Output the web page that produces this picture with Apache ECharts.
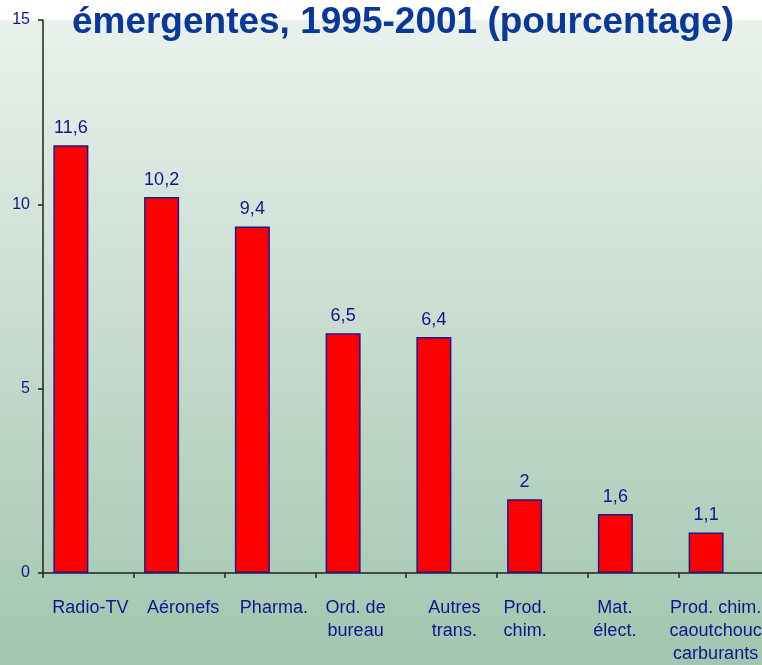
<!DOCTYPE html>
<html><head><meta charset="utf-8">
<script src="https://cdn.jsdelivr.net/npm/echarts@6/dist/echarts.min.js"></script>
<style>html,body{margin:0;padding:0;}#c{width:762px;height:665px;}</style>
</head><body><div id="c"></div>
<script>
const titleText = "émergentes, 1995-2001 (pourcentage)";
const categories = ["Radio-TV", "Aéronefs", "Pharma.", "Ord. de\nbureau", "Autres\ntrans.", "Prod.\nchim.", "Mat.\nélect.", "Prod. chim.\ncaoutchouc\ncarburants"];
const values = [11.6, 10.2, 9.4, 6.5, 6.4, 2, 1.6, 1.1];
const yTicks = [0, 5, 10, 15];
// horizontal nudge (px) of each category label, as placed in the original
const labelShift = [2, 4, 4, -5, 3, -17, -18, -8];

const navy = '#14148a';
const catData = categories.map((c, i) => {
  const s = labelShift[i];
  return {value: c, textStyle: {padding: s >= 0 ? [0, 0, 0, 2 * s] : [0, -2 * s, 0, 0]}};
});
const chart = echarts.init(document.getElementById('c'));
chart.setOption({
  backgroundColor: new echarts.graphic.LinearGradient(0, 0, 0, 1, [
    {offset: 0, color: '#ffffff'},
    {offset: 0.03, color: '#ffffff'},
    {offset: 0.031, color: '#e9f1eb'},
    {offset: 0.5, color: '#c7dccf'},
    {offset: 1, color: '#a1c6af'}
  ]),
  animation: false,
  title: {
    text: titleText, left: 398, textAlign: 'center', top: -1,
    textStyle: {fontFamily: 'Liberation Sans', fontWeight: 'bold', fontSize: 37, color: '#0a3898'}
  },
  grid: {left: 43, width: 726, top: 20, bottom: 92, containLabel: false, outerBoundsMode: 'none'},
  xAxis: {
    type: 'category', data: catData,
    axisLine: {lineStyle: {color: '#222', width: 1.5}},
    axisTick: {show: true, length: 5, lineStyle: {color: '#222', width: 1.5}},
    axisLabel: {interval: 0, margin: 24, fontFamily: 'Liberation Sans', fontSize: 18, color: navy, lineHeight: 23}
  },
  yAxis: {
    type: 'value', min: yTicks[0], max: yTicks[yTicks.length - 1], interval: 5,
    splitLine: {show: false},
    axisLine: {show: true, lineStyle: {color: '#222', width: 1.5}},
    axisTick: {show: true, length: 5, lineStyle: {color: '#222', width: 1.5}},
    axisLabel: {margin: 13, fontFamily: 'Liberation Sans', fontSize: 16, color: navy}
  },
  series: [
    {
      type: 'bar', data: values, barWidth: 35, barGap: '0%',
      itemStyle: {color: '#ff0000', borderColor: '#1a1a90', borderWidth: 1.5},
      label: {
        show: true, position: 'top', distance: 8,
        fontFamily: 'Liberation Sans', fontSize: 18, color: navy,
        formatter: p => String(p.value).replace('.', ',')
      }
    },
    {type: 'bar', data: categories.map(() => null), barWidth: 35}
  ]
});
</script></body></html>
